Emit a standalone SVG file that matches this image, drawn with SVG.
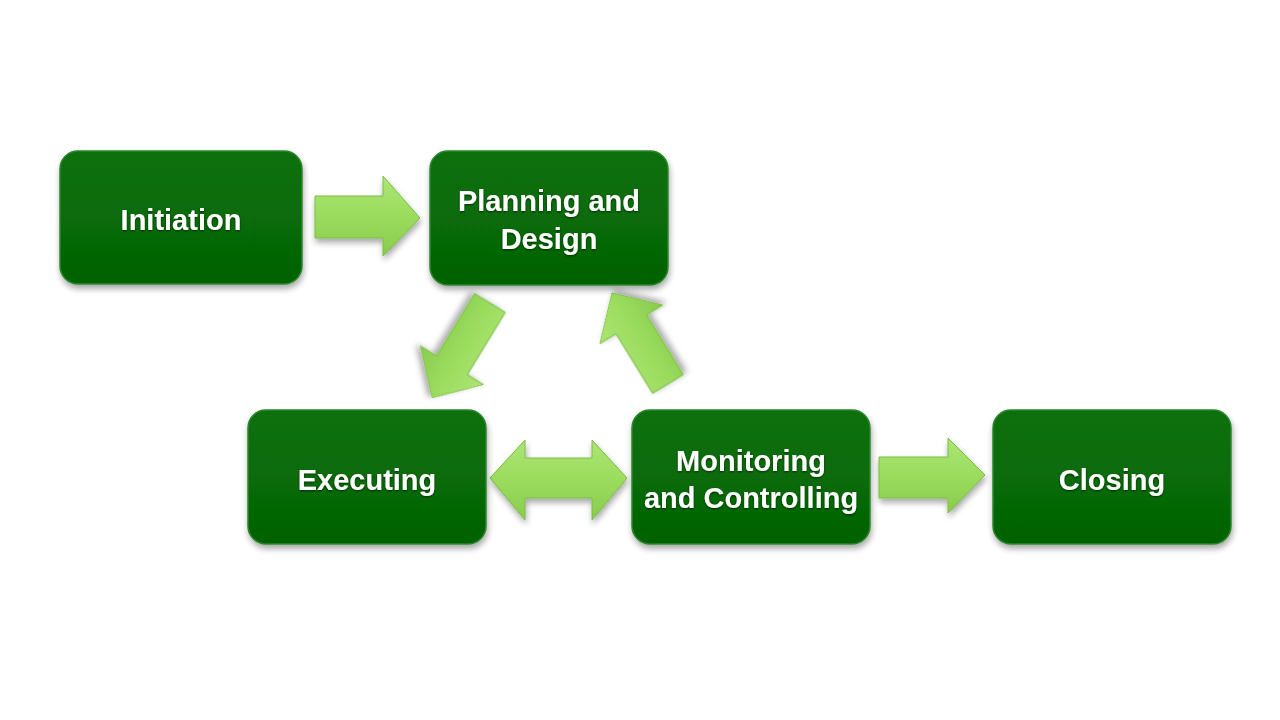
<svg xmlns="http://www.w3.org/2000/svg" width="1280" height="720" viewBox="0 0 1280 720">
<defs>
<linearGradient id="boxg" x1="0" y1="0" x2="0" y2="1">
<stop offset="0" stop-color="#0a700a"/>
<stop offset="0.5" stop-color="#076b07"/>
<stop offset="1" stop-color="#056205"/>
</linearGradient>
<linearGradient id="arrg" x1="0" y1="0" x2="0" y2="1">
<stop offset="0" stop-color="#ace574"/>
<stop offset="0.5" stop-color="#9bdc5e"/>
<stop offset="1" stop-color="#88cc4c"/>
</linearGradient>
<filter id="sh" x="-10%" y="-10%" width="120%" height="130%">
<feGaussianBlur in="SourceAlpha" stdDeviation="3"/>
<feOffset dx="1" dy="4" result="b"/>
<feComponentTransfer><feFuncA type="linear" slope="0.35"/></feComponentTransfer>
<feMerge><feMergeNode/><feMergeNode in="SourceGraphic"/></feMerge>
</filter>
<filter id="tg" x="-5%" y="-20%" width="110%" height="140%">
<feGaussianBlur in="SourceAlpha" stdDeviation="1"/>
<feOffset dx="0" dy="1"/>
<feComponentTransfer><feFuncA type="linear" slope="0.6"/></feComponentTransfer>
<feMerge><feMergeNode/><feMergeNode in="SourceGraphic"/></feMerge>
</filter>
</defs>
<style>
.box{fill:url(#boxg);stroke:#2c862c;stroke-width:1.5;filter:url(#sh)}
.lbl{font-family:"Liberation Sans",Arial,sans-serif;font-weight:bold;font-size:29px;fill:#ffffff;text-anchor:middle;filter:url(#tg)}
.arr{fill:url(#arrg);stroke:#7bbd45;stroke-width:1;filter:url(#sh)}
</style>
<rect width="1280" height="720" fill="#ffffff"/>
<g id="connectors">
<path class="arr" d="M315,196 L383,196 L383,176 L420,218 L383,256 L383,238 L315,238 Z"/>
<path class="arr" d="M879,457 L948,457 L948,438 L985,475 L948,513 L948,498 L879,498 Z"/>
<path class="arr" d="M490,478 L525,440 L525,458 L592,458 L592,440 L627,478 L592,520 L592,498 L525,498 L525,520 Z"/>
<path class="arr" transform="translate(490,303) rotate(121.4)" d="M0,-18 L73,-18 L73,-37 L111,0 L73,37 L73,18 L0,18 Z"/>
<path class="arr" transform="translate(668,384) rotate(-121.6)" d="M0,-18 L70,-18 L70,-37 L107,0 L70,37 L70,18 L0,18 Z"/>
</g>
<g id="initiation">
<rect class="box" x="60" y="151" width="242" height="133" rx="18"/>
<text class="lbl" x="181" y="230">Initiation</text>
</g>
<g id="planning">
<rect class="box" x="430" y="151" width="238" height="134" rx="18"/>
<text class="lbl" x="549" y="211">Planning and</text>
<text class="lbl" x="549" y="249">Design</text>
</g>
<g id="executing">
<rect class="box" x="248" y="410" width="238" height="134" rx="18"/>
<text class="lbl" x="367" y="490">Executing</text>
</g>
<g id="monitoring">
<rect class="box" x="632" y="410" width="238" height="134" rx="18"/>
<text class="lbl" x="751" y="471">Monitoring</text>
<text class="lbl" x="751" y="508">and Controlling</text>
</g>
<g id="closing">
<rect class="box" x="993" y="410" width="238" height="134" rx="18"/>
<text class="lbl" x="1112" y="490">Closing</text>
</g>
</svg>
